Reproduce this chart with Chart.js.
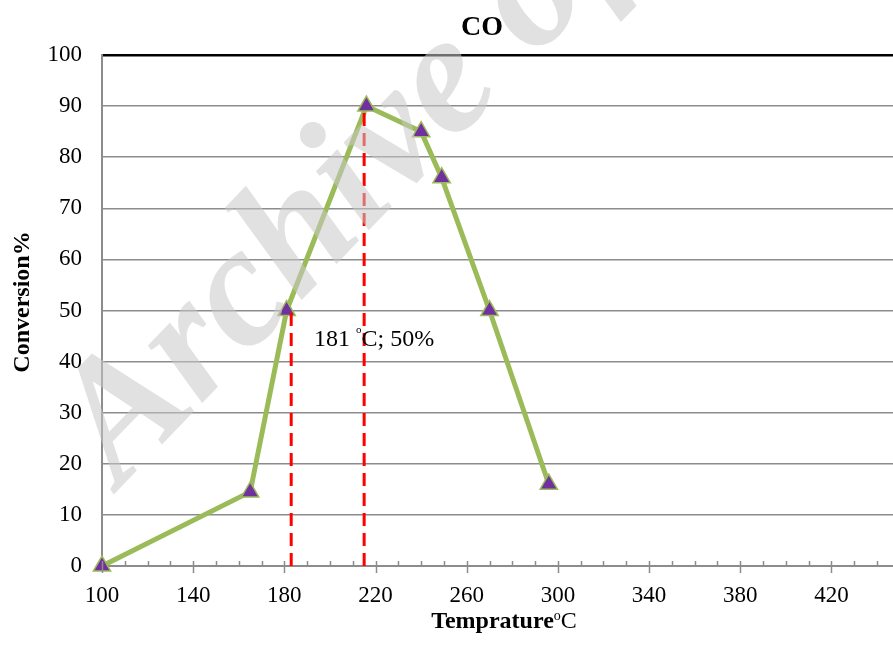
<!DOCTYPE html>
<html>
<head>
<meta charset="utf-8">
<script src="https://cdn.jsdelivr.net/npm/chart.js@4.4.1/dist/chart.umd.min.js"></script>
<style>
  html, body { margin: 0; padding: 0; background: #fff; overflow: hidden; }
  canvas { display: block; }
</style>
</head>
<body>
<canvas id="coChart" width="893" height="646"></canvas>
<script>
// measured series (temperature in °C vs conversion %)
const temps = [100, 165, 181, 216, 240, 249, 270, 296];
const conversion = [0, 14.5, 50, 90, 85, 76, 50, 16];

// red dashed guide lines
const guide1X = [183, 183];
const guide1Y = [0, 50];
const guide2X = [215, 215];
const guide2Y = [0, 90];

// axis ticks
const xTickValues = [100, 140, 180, 220, 260, 300, 340, 380, 420];
const xMinorValues = [100, 110, 120, 130, 140, 150, 160, 170, 180, 190, 200, 210, 220, 230, 240, 250, 260, 270, 280, 290, 300, 310, 320, 330, 340, 350, 360, 370, 380, 390, 400, 410, 420, 430, 440];
const yTickValues = [0, 10, 20, 30, 40, 50, 60, 70, 80, 90, 100];

// annotation "181 °C; 50%" anchored in data units
const noteAt = [193, 43];

const SERIF = "'Liberation Serif', 'Times New Roman', serif";
const GRID = "#8c8c8c";

function toPoints(xs, ys) {
  return xs.map((x, i) => ({ x: x, y: ys[i] }));
}

// titles, minor ticks, annotation, watermark
const decorPlugin = {
  id: "decor",
  afterDraw(chart) {
    const ctx = chart.ctx;
    const xs = chart.scales.x;
    const ys = chart.scales.y;
    const axisY = ys.getPixelForValue(0);

    ctx.save();
    // x ticks (major cross the axis, minor inside)
    ctx.strokeStyle = GRID;
    ctx.lineWidth = 1.5;
    xMinorValues.forEach((v) => {
      const px = Math.round(xs.getPixelForValue(v)) + 0.5;
      const major = xTickValues.indexOf(v) >= 0;
      ctx.beginPath();
      ctx.moveTo(px, axisY - 5);
      ctx.lineTo(px, major ? axisY + 7 : axisY);
      ctx.stroke();
    });

    // chart title
    ctx.fillStyle = "#000";
    ctx.textAlign = "center";
    ctx.textBaseline = "alphabetic";
    ctx.font = "bold 28px " + SERIF;
    ctx.fillText("CO", 482, 35);

    // y title
    ctx.save();
    ctx.translate(23, 302);
    ctx.rotate(-Math.PI / 2);
    ctx.font = "bold 24px " + SERIF;
    ctx.textBaseline = "middle";
    ctx.fillText("Conversion%", 0, 0);
    ctx.restore();

    // x title with superscript o
    ctx.textAlign = "left";
    const tb = 628;
    ctx.font = "bold 24px " + SERIF;
    const w1 = ctx.measureText("Temprature").width;
    ctx.font = "14px " + SERIF;
    const w2 = ctx.measureText("o").width;
    ctx.font = "24px " + SERIF;
    const w3 = ctx.measureText("C").width;
    let tx = 504 - (w1 + w2 + w3) / 2;
    ctx.font = "bold 24px " + SERIF;
    ctx.fillText("Temprature", tx, tb);
    tx += w1;
    ctx.font = "14px " + SERIF;
    ctx.fillText("o", tx, tb - 8);
    tx += w2;
    ctx.font = "24px " + SERIF;
    ctx.fillText("C", tx, tb);

    // annotation
    let ax = xs.getPixelForValue(noteAt[0]);
    const ay = ys.getPixelForValue(noteAt[1]);
    ctx.font = "24px " + SERIF;
    ctx.fillText("181 ", ax, ay);
    ax += ctx.measureText("181 ").width;
    ctx.font = "11px " + SERIF;
    ctx.fillText("o", ax, ay - 13);
    ax += ctx.measureText("o").width;
    ctx.font = "24px " + SERIF;
    ctx.fillText("C; 50%", ax, ay);

    // watermark
    ctx.translate(120, 488);
    ctx.rotate(-46 * Math.PI / 180);
    ctx.font = "italic bold 172px " + SERIF;
    ctx.fillStyle = "rgba(200,200,200,0.55)";
    ctx.fillText("Archive of SID", 0, 0);
    ctx.restore();
  },
};

new Chart(document.getElementById("coChart"), {
  type: "scatter",
  data: {
    datasets: [
      {
        data: toPoints(guide1X, guide1Y),
        showLine: true,
        borderColor: "#ff0000",
        borderWidth: 3,
        borderDash: [13, 7],
        pointRadius: 0,
        order: 0,
      },
      {
        data: toPoints(guide2X, guide2Y),
        showLine: true,
        borderColor: "#ff0000",
        borderWidth: 3,
        borderDash: [13, 7],
        pointRadius: 0,
        order: 0,
      },
      {
        data: toPoints(temps, conversion),
        showLine: true,
        borderColor: "#9bbb59",
        borderWidth: 5,
        pointStyle: "triangle",
        pointRadius: 10,
        pointBackgroundColor: "#7030a0",
        pointBorderColor: "#9bbb59",
        pointBorderWidth: 1.5,
        clip: false,
        order: 1,
      },
    ],
  },
  options: {
    responsive: false,
    animation: false,
    layout: { autoPadding: false, padding: { top: 55, right: 0, bottom: 0, left: 0 } },
    plugins: {
      legend: { display: false },
      tooltip: { enabled: false },
      title: { display: false },
    },
    scales: {
      x: {
        type: "linear",
        min: 100,
        max: 447,
        afterBuildTicks: (s) => {
          s.ticks = xTickValues.map((v) => ({ value: v }));
        },
        afterFit: (s) => {
          s.height = 80;
          s.paddingLeft = 0;
          s.paddingRight = 0;
        },
        grid: { display: false },
        border: { display: true, color: GRID, width: 2 },
        ticks: {
          color: "#000",
          padding: 8,
          maxRotation: 0,
          font: { family: SERIF, size: 23 },
        },
      },
      y: {
        min: 0,
        max: 100,
        afterBuildTicks: (s) => {
          s.ticks = yTickValues.map((v) => ({ value: v }));
        },
        afterFit: (s) => {
          s.width = 102;
        },
        grid: {
          drawTicks: false,
          color: (c) => (c.tick && c.tick.value === 100 ? "#000" : GRID),
          lineWidth: (c) => (c.tick && c.tick.value === 100 ? 2.5 : 1.5),
        },
        border: { display: true, color: GRID, width: 2 },
        ticks: {
          color: "#000",
          padding: 20,
          font: { family: SERIF, size: 23 },
        },
      },
    },
  },
  plugins: [decorPlugin],
});
</script>
</body>
</html>
